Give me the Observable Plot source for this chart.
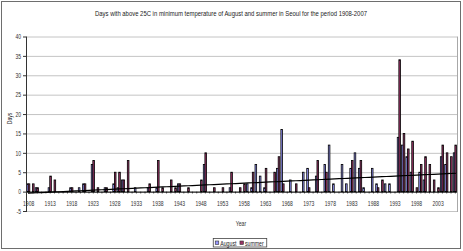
<!DOCTYPE html>
<html>
<head>
<meta charset="utf-8">
<script src="https://cdn.jsdelivr.net/npm/d3@7"></script>
<script src="https://cdn.jsdelivr.net/npm/@observablehq/plot@0.6"></script>
<style>
  html, body { margin: 0; padding: 0; background: #fff; }
  #page { position: relative; width: 463px; height: 251px; overflow: hidden; font-family: "Liberation Sans", Arial, sans-serif; }
  #border { position: absolute; left: 1px; top: 1px; width: 460px; height: 248px; box-sizing: border-box; border: 1px solid #6e6e6e; }
  #page svg { position: absolute; left: 0; top: 0; }
</style>
</head>
<body>
<div id="page"><div id="border"></div></div>
<script>
// Days with a daily minimum above 25°C in Seoul, 1908–2007
const firstYear = 1908, lastYear = 2007;
const years = d3.range(firstYear, lastYear + 1);

// August counts, ten years per row (1908–1917, 1918–1927, ...)
const august = [
  2, 0, 1, 0, 0, 1, 0, 0, 0, 0,
  1, 0, 1, 2, 0, 7, 0, 0, 1, 0,
  2, 1, 3, 0, 0, 1, 0, 0, 1, 0,
  1, 0, 0, 0, 0, 2, 0, 0, 0, 0,
  0, 7, 0, 0, 0, 0, 0, 1, 0, 0,
  0, 2, 1, 7, 4, 1, 0, 0, 6, 16,
  0, 3, 0, 0, 5, 6, 0, 4, 0, 7,
  12, 2, 0, 7, 2, 6, 10, 6, 1, 0,
  6, 2, 0, 2, 2, 0, 14, 12, 9, 5,
  0, 5, 3, 0, 0, 0, 9, 7, 0, 10
];

// Whole-summer counts, same layout
const summer = [
  2, 2, 1, 0, 0, 4, 3, 0, 0, 0,
  1, 0, 0, 2, 0, 8, 1, 0, 1, 0,
  5, 5, 3, 8, 0, 0, 0, 0, 2, 0,
  8, 1, 0, 3, 1, 2, 0, 1, 0, 0,
  3, 10, 0, 1, 0, 1, 0, 5, 0, 1,
  2, 0, 5, 0, 0, 6, 0, 5, 9, 2,
  0, 0, 2, 0, 0, 1, 0, 8, 0, 5,
  0, 0, 0, 0, 0, 8, 0, 8, 0, 0,
  0, 1, 3, 0, 0, 0, 34, 15, 11, 13,
  1, 7, 9, 7, 3, 1, 12, 10, 9, 12
];

const seriesNames = ["August", "summer"];
const seriesColors = ["#9999ff", "#993366"];
const yTicks = [-5, 0, 5, 10, 15, 20, 25, 30, 35, 40];
const labelYears = [1908, 1913, 1918, 1923, 1928, 1933, 1938, 1943, 1948, 1953,
                    1958, 1963, 1968, 1973, 1978, 1983, 1988, 1993, 1998, 2003];

const titleText = "Days with above 25C in minimum temperature of August and summer in Seoul for the period 1908-2007";

const augRows = years.map((year, i) => ({year, days: august[i]})).filter(d => d.days > 0);
const sumRows = years.map((year, i) => ({year, days: summer[i]})).filter(d => d.days > 0);

// least-squares linear trend of the August series
const mx = d3.mean(years), my = d3.mean(august);
const slope = d3.sum(years, (y, i) => (y - mx) * (august[i] - my)) / d3.sum(years, y => (y - mx) ** 2);
const intercept = my - slope * mx;
const trend = years.map(year => ({year, value: intercept + slope * year}));

const font = "'Liberation Sans', Arial, sans-serif";

const chart = Plot.plot({
  width: 463,
  height: 251,
  marginTop: 36.5,
  marginBottom: 40,
  marginLeft: 26,
  marginRight: 6,
  style: {background: "transparent", fontFamily: font, fontSize: "7px", color: "#333"},
  x: {type: "band", domain: years, paddingInner: 0, paddingOuter: 0, axis: null},
  y: {domain: [-5, 40], axis: null},
  marks: [
    Plot.ruleY(yTicks, {stroke: "#c4c4c4", strokeWidth: 1}),
    Plot.frame({anchor: "right", stroke: "#a8a8a8"}),
    Plot.barY(augRows, {x: "year", y: "days", fill: seriesColors[0], stroke: "#000", strokeWidth: 0.8, insetLeft: 0.6, insetRight: 2.1}),
    Plot.barY(sumRows, {x: "year", y: "days", fill: seriesColors[1], stroke: "#000", strokeWidth: 0.8, insetLeft: 2.2, insetRight: 0.5}),
    Plot.ruleY([0], {stroke: "#000", strokeWidth: 1}),
    Plot.ruleX(years, {x: d => d, y1: 0, y2: -0.5, stroke: "#000", strokeWidth: 0.6}),
    Plot.line(trend, {x: "year", y: "value", stroke: "#000", strokeWidth: 1.2}),
    Plot.text(labelYears, {x: d => d, y: 0, dy: 11.5, text: d => String(d), fontSize: 7, fill: "#333"}),
    Plot.axisY(yTicks, {tickSize: 3, tickPadding: 2.5, tickFormat: d => String(d), label: null, fontSize: 7, stroke: "#333", fill: "#333"}),
    Plot.frame({anchor: "left", stroke: "#333"}),
    Plot.text(["Days"], {frameAnchor: "left", dx: -17, rotate: -90, fontSize: 7, fill: "#333"})
  ]
});

const page = document.getElementById("page");
page.appendChild(chart);

// title, axis name and legend
const deco = d3.select(page).append("svg")
  .attr("width", 463).attr("height", 251)
  .style("font-family", font);

deco.append("text")
  .attr("x", 231).attr("y", 16)
  .attr("text-anchor", "middle")
  .attr("font-size", 6.5).attr("fill", "#222")
  .attr("textLength", 272).attr("lengthAdjust", "spacingAndGlyphs")
  .text(titleText);

deco.append("text")
  .attr("x", 241).attr("y", 225.5)
  .attr("text-anchor", "middle")
  .attr("font-size", 6.5).attr("fill", "#333")
  .text("Year");

const legend = deco.append("g");
const box = legend.append("rect")
  .attr("y", 238.5).attr("height", 8.5)
  .attr("fill", "#fff").attr("stroke", "#444").attr("stroke-width", 0.8);
let cx = 0;
const items = [];
seriesNames.forEach((name, i) => {
  const sw = legend.append("rect")
    .attr("y", 241).attr("width", 3.5).attr("height", 3.5)
    .attr("fill", seriesColors[i]).attr("stroke", "#333").attr("stroke-width", 0.6);
  const tx = legend.append("text")
    .attr("y", 245.6).attr("font-size", 6.5).attr("fill", "#222")
    .text(name);
  items.push({sw, tx});
});

// narrow the lettering the way the chart's typeface is set
function condense(root, k) {
  root.querySelectorAll("text").forEach(t => {
    if (t.hasAttribute("textLength")) return;
    const w = t.getComputedTextLength();
    if (w > 0) {
      t.setAttribute("textLength", (w * k).toFixed(2));
      t.setAttribute("lengthAdjust", "spacingAndGlyphs");
    }
  });
}
condense(chart, 0.72);
condense(deco.node(), 0.8);

// lay out legend entries
items.forEach(({sw, tx}) => {
  sw.attr("x", cx + 2);
  tx.attr("x", cx + 7);
  cx += 7 + parseFloat(tx.attr("textLength")) + 1.5;
});
const legendWidth = cx + 1.5;
const legendLeft = 240 - legendWidth / 2;
box.attr("x", 0).attr("width", legendWidth);
legend.attr("transform", `translate(${legendLeft},0)`);
</script>
</body>
</html>
